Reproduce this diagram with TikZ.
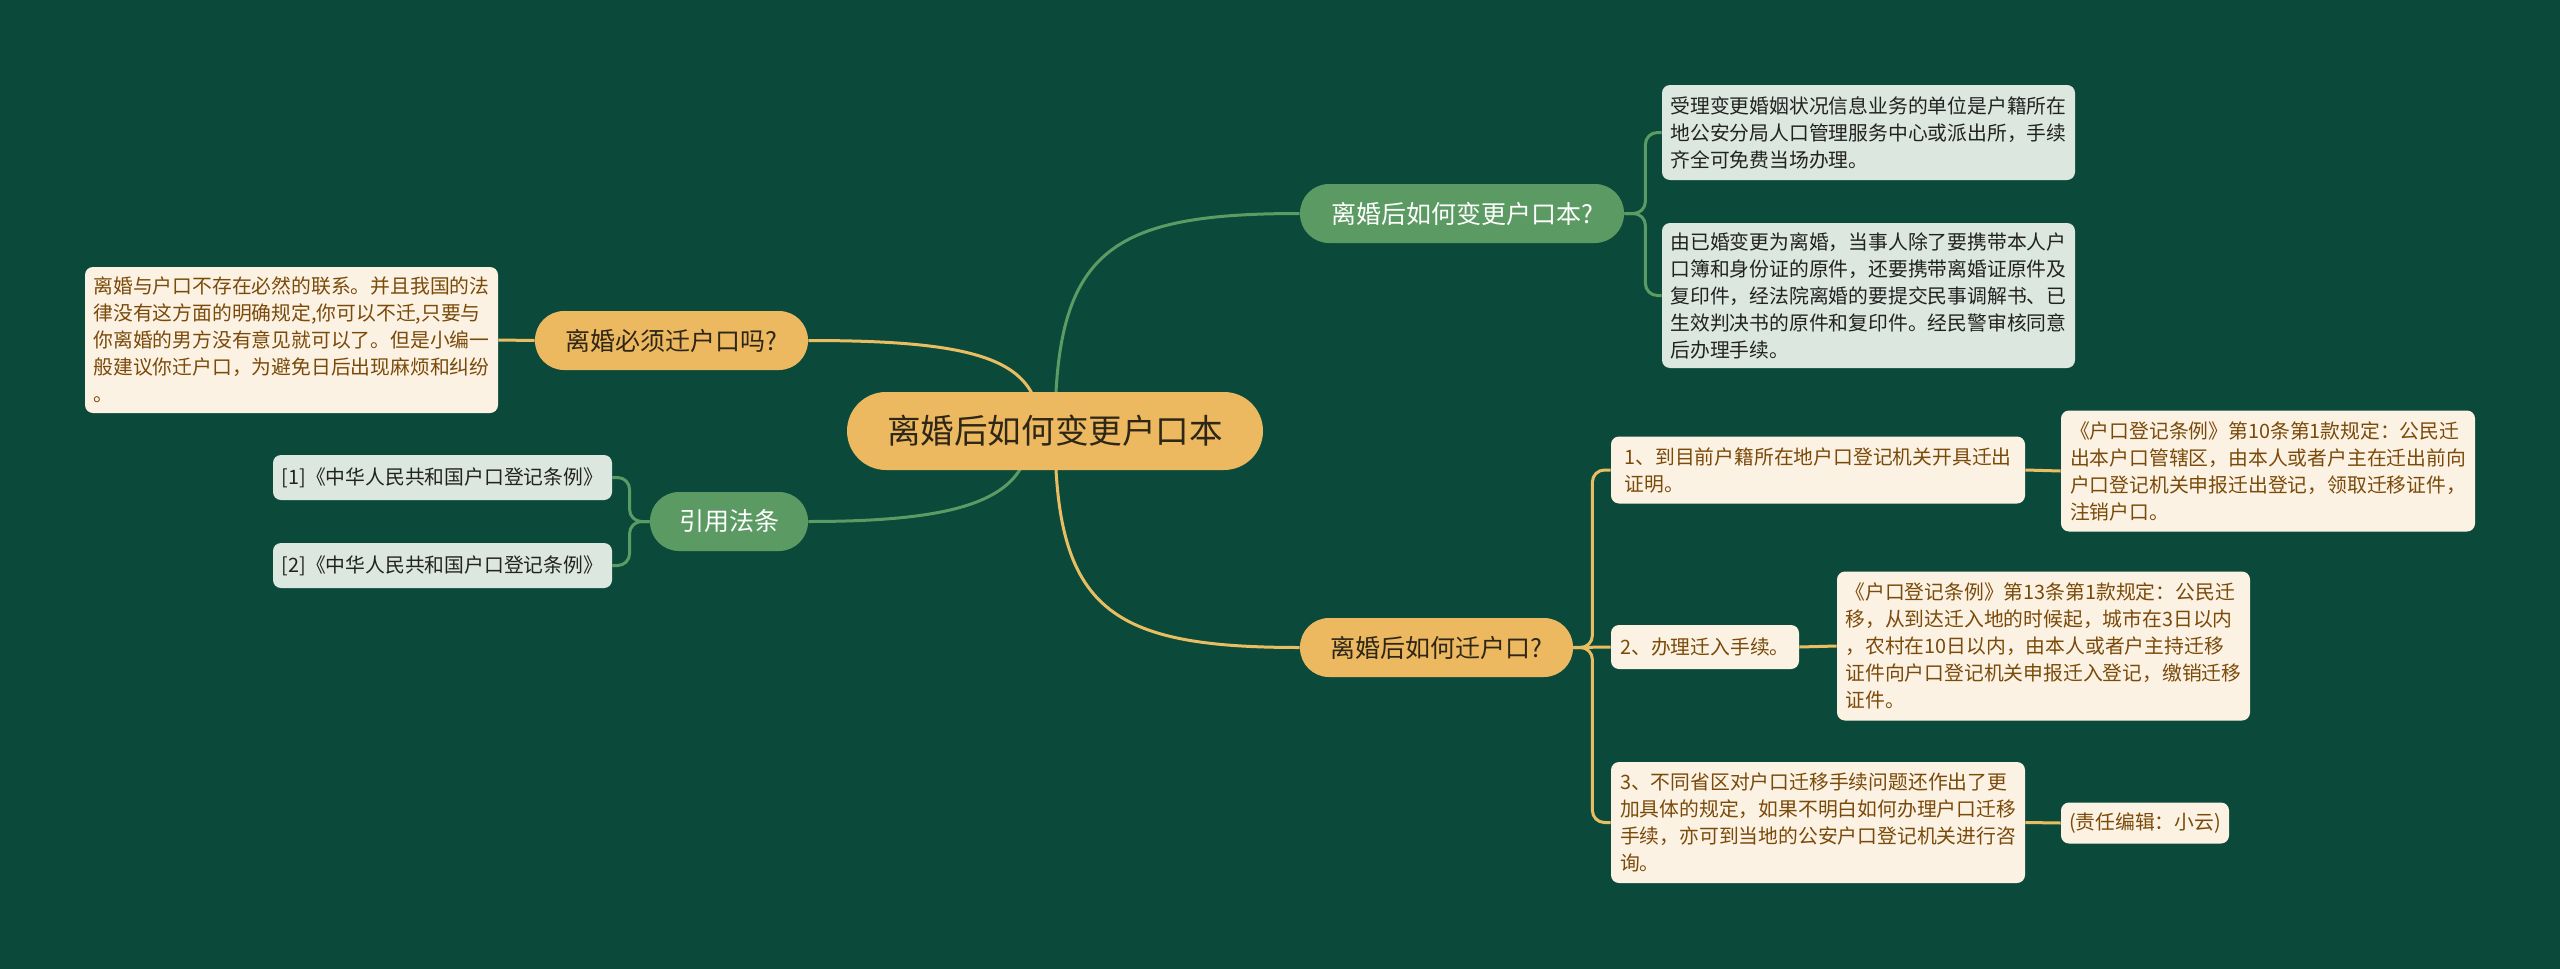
\documentclass[tikz,border=0pt]{standalone}
\usepackage{fontspec}
\setmainfont{Noto Sans CJK SC}
\usetikzlibrary{calc}
\definecolor{bgc}{HTML}{0B4A3A}
\definecolor{yel}{HTML}{EDB960}
\definecolor{grn}{HTML}{5B9A62}
\definecolor{ylin}{HTML}{E9BE62}
\definecolor{glin}{HTML}{5C9B64}
\definecolor{lgr}{HTML}{DCE8DF}
\definecolor{crm}{HTML}{FCF2E3}
\definecolor{brn}{HTML}{7A4A0A}
\definecolor{dtx}{HTML}{222222}
\definecolor{rtx}{HTML}{2E2616}
\pgfdeclarelayer{bg}
\pgfsetlayers{bg,main}
\begin{document}
\begin{tikzpicture}[x=0.5pt,y=-0.5pt,
  rootbox/.style={fill=yel,text=rtx,rounded corners=19.5pt,minimum width=208pt,minimum height=39pt,inner sep=0pt,font=\fontsize{16.8pt}{20pt}\selectfont},
  subG/.style={fill=grn,text=white,rounded corners=14.5pt,minimum height=29.5pt,inner sep=0pt,font=\fontsize{12.5pt}{15pt}\selectfont},
  subY/.style={fill=yel,text=rtx,rounded corners=14.5pt,minimum height=29.5pt,inner sep=0pt,font=\fontsize{12.5pt}{15pt}\selectfont},
  leafG/.style={fill=lgr,text=dtx,rounded corners=4pt,inner sep=0pt,align=left,font=\fontsize{9.9pt}{13.5pt}\selectfont},
  leafY/.style={fill=crm,text=brn,rounded corners=4pt,inner sep=0pt,align=left,font=\fontsize{9.9pt}{13.5pt}\selectfont},
  ycurve/.style={draw=ylin,line width=1.5pt},
  gcurve/.style={draw=glin,line width=1.5pt},
  bracket/.style={rounded corners=6pt}
]
\useasboundingbox (0,0) rectangle (2560,969);
\begin{pgfonlayer}{bg}
\fill[bgc] (0,0) rectangle (2560,969);
\end{pgfonlayer}

% root
\node[rootbox] (root) at (1055,431) {离婚后如何变更户口本};

% main branches
\node[subG, minimum width=162pt] (g1) at (1462,213.5) {离婚后如何变更户口本?};
\node[subY, minimum width=136.5pt] (y1) at (1436.5,647.5) {离婚后如何迁户口?};
\node[subY, minimum width=136.5pt] (y2) at (671.5,340.5) {离婚必须迁户口吗?};
\node[subG, minimum width=79pt] (g2) at (729,521.5) {引用法条};

% leaves, green side
\node[leafG, minimum width=206.5pt, minimum height=47.5pt] (gl1) at (1868.5,132.5)
  {受理变更婚姻状况信息业务的单位是户籍所在\\地公安分局人口管理服务中心或派出所，手续\\齐全可免费当场办理。};
\node[leafG, minimum width=206.5pt, minimum height=72.5pt] (gl2) at (1868.5,295.5)
  {由已婚变更为离婚，当事人除了要携带本人户\\口簿和身份证的原件，还要携带离婚证原件及\\复印件，经法院离婚的要提交民事调解书、已\\生效判决书的原件和复印件。经民警审核同意\\后办理手续。};
\node[leafG, minimum width=169.5pt, minimum height=22.5pt] (ref1) at (442.5,477.5)
  {[1]《中华人民共和国户口登记条例》};
\node[leafG, minimum width=169.5pt, minimum height=22.5pt] (ref2) at (442.5,565.5)
  {[2]《中华人民共和国户口登记条例》};

% leaves, yellow side
\node[leafY, minimum width=206.5pt, minimum height=73pt] (lt) at (291.5,340)
  {离婚与户口不存在必然的联系。并且我国的法\\律没有这方面的明确规定,你可以不迁,只要与\\你离婚的男方没有意见就可以了。但是小编一\\般建议你迁户口，为避免日后出现麻烦和纠纷\\。};
\node[leafY, minimum width=207pt, minimum height=33.5pt] (i1) at (1818,470)
  {1、到目前户籍所在地户口登记机关开具迁出\\证明。};
\node[leafY, minimum width=207pt, minimum height=60.5pt] (d1) at (2268,471)
  {《户口登记条例》第10条第1款规定：公民迁\\出本户口管辖区，由本人或者户主在迁出前向\\户口登记机关申报迁出登记，领取迁移证件，\\注销户口。};
\node[leafY, minimum width=94pt, minimum height=22pt] (i2) at (1705,647)
  {2、办理迁入手续。};
\node[leafY, minimum width=206.5pt, minimum height=74.5pt] (d2) at (2043.5,646)
  {《户口登记条例》第13条第1款规定：公民迁\\移，从到达迁入地的时候起，城市在3日以内\\，农村在10日以内，由本人或者户主持迁移\\证件向户口登记机关申报迁入登记，缴销迁移\\证件。};
\node[leafY, minimum width=207pt, minimum height=60.5pt] (i3) at (1818,822.5)
  {3、不同省区对户口迁移手续问题还作出了更\\加具体的规定，如果不明白如何办理户口迁移\\手续，亦可到当地的公安户口登记机关进行咨\\询。};
\node[leafY, minimum width=84pt, minimum height=20.5pt] (ed) at (2145,823)
  {(责任编辑：小云)};

\begin{pgfonlayer}{bg}
% root to main branches
\draw[gcurve] (root.center) .. controls ($(root.center)+(0,-181)$) and ($(g1.west)+(-190,0)$) .. (g1.west);
\draw[ycurve] (root.center) .. controls ($(root.center)+(0,179)$) and ($(y1.west)+(-190,0)$) .. (y1.west);
\draw[ycurve] ($(root.center)+(-15,0)$) .. controls ($(root.center)+(-15,-71)$) and ($(y2.east)+(172,0)$) .. (y2.east);
\draw[gcurve] ($(root.center)+(-25,0)$) .. controls ($(root.center)+(-25,69)$) and ($(g2.east)+(152,0)$) .. (g2.east);
% green brackets
\draw[gcurve,bracket] (g1.east) -- ++(21,0) |- (gl1.west);
\draw[gcurve,bracket] (g1.east) -- ++(21,0) |- (gl2.west);
\draw[gcurve,bracket] (g2.west) -- ++(-20,0) |- (ref1.east);
\draw[gcurve,bracket] (g2.west) -- ++(-20,0) |- (ref2.east);
% yellow brackets
\draw[ycurve,bracket] (y1.east) -- ++(19,0) |- (i1.west);
\draw[ycurve] (y1.east) -- (i2.west);
\draw[ycurve,bracket] (y1.east) -- ++(19,0) |- (i3.west);
\draw[ycurve] (y2.west) -- (lt.east);
\draw[ycurve] (i1.east) -- (d1.west);
\draw[ycurve] (i2.east) -- (d2.west);
\draw[ycurve] (i3.east) -- (ed.west);
\end{pgfonlayer}
\end{tikzpicture}
\end{document}
